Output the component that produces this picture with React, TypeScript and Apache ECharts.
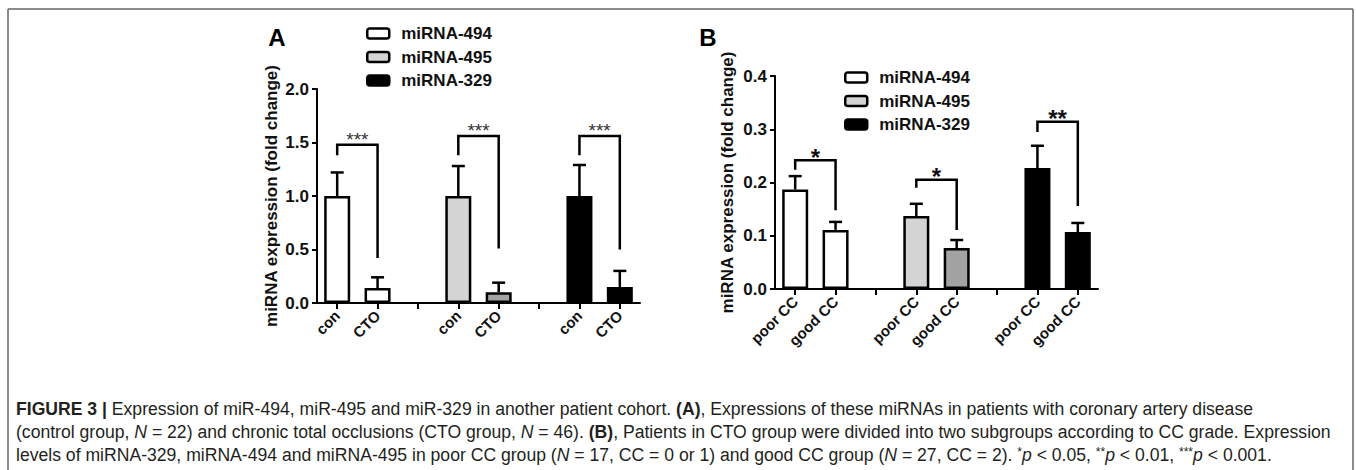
import React, { useEffect, useRef } from 'react';
import * as echarts from 'echarts';

// ---------- data ----------
const seriesNames = ['miRNA-494', 'miRNA-495', 'miRNA-329'];
const catsA = ['con', 'CTO', '', 'con', 'CTO', '', 'con', 'CTO'];
const catsB = ['poor CC', 'good CC', '', 'poor CC', 'good CC', '', 'poor CC', 'good CC'];
// category index of each miRNA pair
const groupCats = [[0, 1], [3, 4], [6, 7]];

// Panel A: [con, CTO]
const meanA494 = [1.0, 0.14];
const errA494 = [0.22, 0.1];
const meanA495 = [1.0, 0.1];
const errA495 = [0.28, 0.09];
const meanA329 = [1.0, 0.15];
const errA329 = [0.29, 0.15];

// Panel B: [poor CC, good CC]
const meanB494 = [0.187, 0.111];
const errB494 = [0.025, 0.015];
const meanB495 = [0.137, 0.077];
const errB495 = [0.023, 0.015];
const meanB329 = [0.227, 0.107];
const errB329 = [0.042, 0.017];

// significance brackets: [left leg end, top, right leg end]
const bracketA = [[1.38, 1.48, 0.42], [1.38, 1.56, 0.51], [1.38, 1.56, 0.5]];
const starsA = ['***', '***', '***'];
const bracketB = [[0.224, 0.242, 0.148], [0.19, 0.205, 0.111], [0.295, 0.314, 0.156]];
const starsB = ['*', '*', '**'];

const yMaxA = 2.0;
const yStepA = 0.5;
const yMaxB = 0.4;
const yStepB = 0.1;

const fillColors = [['#ffffff', '#ffffff'], ['#d4d4d4', '#a3a3a3'], ['#000000', '#000000']];
const legendColors = ['#ffffff', '#d4d4d4', '#000000'];

const yName = 'miRNA expression (fold change)';

const captionLines = [
  '{b|FIGURE 3 |}{n| Expression of miR-494, miR-495 and miR-329 in another patient cohort. }{b|(A)}{n|, Expressions of these miRNAs in patients with coronary artery disease}',
  '{n|(control group, }{i|N}{n| = 22) and chronic total occlusions (CTO group, }{i|N}{n| = 46). }{b|(B)}{n|, Patients in CTO group were divided into two subgroups according to CC grade. Expression}',
  '{n|levels of miRNA-329, miRNA-494 and miRNA-495 in poor CC group (}{i|N}{n| = 17, CC = 0 or 1) and good CC group (}{i|N}{n| = 27, CC = 2). }{s|*}{i|p}{n| < 0.05, }{s|**}{i|p}{n| < 0.01, }{s|***}{i|p}{n| < 0.001.}',
];

const FONT = 'Liberation Sans, Arial, Helvetica, sans-serif';

function buildPanel(p: number, means: number[][], errs: number[][], brackets: number[][], stars: string[], starStyle: any) {
  const series: any[] = [];
  means.forEach((m, k) => {
    const data: any[] = new Array(8).fill(null);
    groupCats[k].forEach((ci, j) => {
      data[ci] = { value: m[j], itemStyle: { color: fillColors[k][j] } };
    });
    series.push({
      type: 'bar',
      name: seriesNames[k],
      xAxisIndex: p,
      yAxisIndex: p,
      barWidth: 26,
      barGap: '-100%',
      itemStyle: { borderColor: '#000', borderWidth: 2.5, color: legendColors[k] },
      data,
      z: 2,
    });
  });
  const errData: number[][] = [];
  means.forEach((m, k) => {
    groupCats[k].forEach((ci, j) => errData.push([ci, m[j], errs[k][j]]));
  });
  series.push({
    type: 'custom',
    xAxisIndex: p,
    yAxisIndex: p,
    encode: { x: 0, y: 1 },
    data: errData,
    z: 3,
    silent: true,
    renderItem: (params: any, api: any) => {
      const x = api.value(0);
      const m = api.value(1);
      const e = api.value(2);
      const b = api.coord([x, m]);
      const t = api.coord([x, m + e]);
      const st = { stroke: '#000', lineWidth: 2.5 };
      return {
        type: 'group',
        children: [
          { type: 'line', shape: { x1: b[0], y1: b[1], x2: t[0], y2: t[1] }, style: st },
          { type: 'line', shape: { x1: t[0] - 6.5, y1: t[1], x2: t[0] + 6.5, y2: t[1] }, style: st },
        ],
      };
    },
  });
  const brData = brackets.map((br, k) => [groupCats[k][0], groupCats[k][1], br[0], br[1], br[2]]);
  series.push({
    type: 'custom',
    xAxisIndex: p,
    yAxisIndex: p,
    encode: { x: [0, 1], y: [2, 3, 4] },
    data: brData,
    z: 3,
    silent: true,
    renderItem: (params: any, api: any) => {
      const x1 = api.value(0);
      const x2 = api.value(1);
      const p1 = api.coord([x1, api.value(2)]);
      const p2 = api.coord([x1, api.value(3)]);
      const p3 = api.coord([x2, api.value(3)]);
      const p4 = api.coord([x2, api.value(4)]);
      return {
        type: 'group',
        children: [
          {
            type: 'polyline',
            shape: { points: [p1, p2, p3, p4] },
            style: { stroke: '#000', lineWidth: 2.5, fill: null },
          },
          {
            type: 'text',
            x: (p2[0] + p3[0]) / 2,
            y: p2[1] + starStyle.dy,
            style: {
              text: stars[params.dataIndex],
              fontSize: starStyle.size,
              fontWeight: starStyle.weight,
              fontFamily: FONT,
              fill: starStyle.color,
              align: 'center',
              verticalAlign: 'bottom',
            },
          },
        ],
      };
    },
  });
  return series;
}

function xAxis(p: number, cats: string[]) {
  return {
    type: 'category',
    gridIndex: p,
    data: cats,
    axisLine: { show: true, onZero: false, lineStyle: { color: '#000', width: 2 } },
    axisTick: { show: true, alignWithLabel: true, interval: 0, length: 6, lineStyle: { color: '#000', width: 2 } },
    axisLabel: { show: true, rotate: 45, interval: 0, fontSize: 15, fontWeight: 'bold', color: '#111', margin: 10, fontFamily: FONT },
    splitLine: { show: false },
  };
}

function yAxis(p: number, max: number, step: number, gap: number) {
  return {
    type: 'value',
    gridIndex: p,
    min: 0,
    max,
    interval: step,
    name: yName,
    nameLocation: 'middle',
    nameGap: gap,
    nameTextStyle: { fontSize: 17, fontWeight: 'bold', color: '#111', fontFamily: FONT },
    axisLine: { show: true, lineStyle: { color: '#000', width: 2 } },
    axisTick: { show: true, length: 5, lineStyle: { color: '#000', width: 2 } },
    axisLabel: {
      fontSize: 17,
      fontWeight: 'bold',
      color: '#111',
      margin: 8,
      fontFamily: FONT,
      formatter: (v: number) => v.toFixed(1),
    },
    splitLine: { show: false },
  };
}

function legend(left: number, top: number) {
  return {
    left,
    top,
    orient: 'vertical',
    itemWidth: 22,
    itemHeight: 10,
    itemGap: 6.5,
    padding: 0,
    selectedMode: false,
    icon: 'roundRect',
    textStyle: { fontSize: 17, fontWeight: 'bold', color: '#111', fontFamily: FONT, padding: [0, 0, 0, 7] },
    data: seriesNames.map((n, k) => ({
      name: n,
      icon: 'roundRect',
      itemStyle: { color: legendColors[k], borderColor: '#000', borderWidth: 2.5 },
    })),
  };
}

export default function App() {
  const ref = useRef<HTMLDivElement>(null);
  useEffect(() => {
    if (!ref.current) return;
    const chart = echarts.init(ref.current, null, { renderer: 'svg' });
    const seriesA = buildPanel(
      0,
      [meanA494, meanA495, meanA329],
      [errA494, errA495, errA329],
      bracketA,
      starsA,
      { size: 19, weight: 'normal', color: '#333', dy: 4 }
    );
    const seriesB = buildPanel(
      1,
      [meanB494, meanB495, meanB329],
      [errB494, errB495, errB329],
      bracketB,
      starsB,
      { size: 24, weight: 'bold', color: '#111', dy: 9 }
    );
    const capStyle = { fontSize: 17.6, fontFamily: FONT, color: '#231f20' };
    chart.setOption({
      animation: false,
      textStyle: { fontFamily: FONT },
      grid: [
        { left: 317, top: 89, width: 323, height: 214 },
        { left: 775, top: 76, width: 323, height: 213 },
      ],
      xAxis: [xAxis(0, catsA), xAxis(1, catsB)],
      yAxis: [yAxis(0, yMaxA, yStepA, 37), yAxis(1, yMaxB, yStepB, 39)],
      legend: [legend(366, 25), legend(844, 69)],
      series: [...seriesA, ...seriesB],
      graphic: [
        { type: 'line', shape: { x1: 8, y1: 9, x2: 1353, y2: 9 }, style: { stroke: '#666', lineWidth: 1.5 } },
        { type: 'line', shape: { x1: 8, y1: 9, x2: 8, y2: 470 }, style: { stroke: '#666', lineWidth: 1.5 } },
        { type: 'line', shape: { x1: 1353, y1: 9, x2: 1353, y2: 470 }, style: { stroke: '#666', lineWidth: 1.5 } },
        {
          type: 'text',
          x: 277,
          y: 37,
          style: { text: 'A', fontSize: 24, fontWeight: 'bold', fontFamily: FONT, fill: '#000', align: 'center', verticalAlign: 'middle' },
        },
        {
          type: 'text',
          x: 708,
          y: 37,
          style: { text: 'B', fontSize: 24, fontWeight: 'bold', fontFamily: FONT, fill: '#000', align: 'center', verticalAlign: 'middle' },
        },
        ...captionLines.map((line, i) => ({
          type: 'text',
          x: 16,
          y: 409 + i * 23,
          style: {
            text: line,
            fontSize: 17.6,
            fontFamily: FONT,
            fill: '#231f20',
            align: 'left',
            verticalAlign: 'middle',
            rich: {
              n: { ...capStyle },
              b: { ...capStyle, fontWeight: 'bold' },
              i: { ...capStyle, fontStyle: 'italic' },
              s: { ...capStyle, fontSize: 12, verticalAlign: 'top' },
            },
          },
        })),
      ],
    });
    return () => chart.dispose();
  }, []);
  return <div ref={ref} style={{ position: 'absolute', left: 0, top: 0, width: 1356, height: 470 }} />;
}
